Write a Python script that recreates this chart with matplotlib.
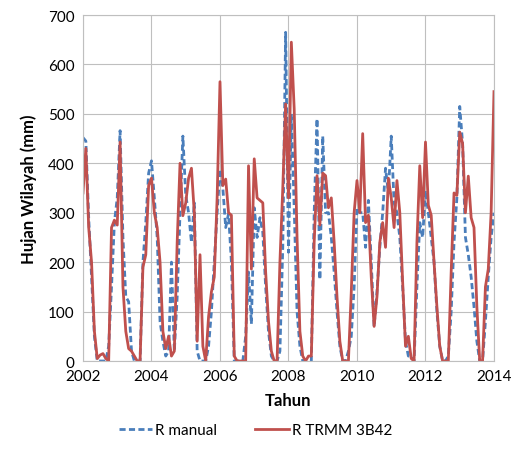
import numpy as np
import matplotlib
matplotlib.use("Agg")
import matplotlib.pyplot as plt

# monthly rainfall, Jan 2002 .. Jan 2014
r_manual = [452, 445, 290, 170, 50, 0, 0, 0, 0, 30, 150, 280,
            330, 466, 250, 130, 120, 20, 0, 0, 0, 200, 280, 380,
            405, 330, 250, 80, 40, 10, 20, 200, 20, 130, 300, 455,
            335, 300, 240, 320, 20, 0, 0, 0, 30, 100, 200, 300,
            388, 350, 270, 298, 200, 0, 0, 0, 0, 50, 180, 75,
            310, 250, 290, 260, 150, 60, 10, 0, 0, 20, 230, 665,
            220, 500, 310, 100, 30, 0, 0, 0, 0, 300, 490, 165,
            455, 300, 300, 250, 180, 100, 30, 0, 0, 20, 50, 150,
            310, 300, 300, 230, 325, 200, 70, 140, 230, 300, 390, 340,
            455, 320, 300, 250, 150, 40, 10, 10, 0, 150, 280, 250,
            345, 300, 250, 200, 100, 30, 0, 0, 10, 100, 240, 330,
            515, 440, 250, 215, 170, 110, 40, 0, 0, 80, 170, 250,
            300]
r_trmm = [340, 430, 270, 200, 60, 5, 12, 15, 5, 0, 270, 285,
          275, 443, 150, 60, 25, 20, 10, 0, 0, 190, 215, 355,
          370, 300, 270, 200, 60, 25, 50, 10, 20, 240, 400, 294,
          320, 370, 390, 300, 40, 215, 30, 0, 90, 140, 170, 330,
          565, 355, 368, 300, 295, 10, 0, 0, 0, 0, 395, 186,
          409, 330, 325, 320, 180, 80, 20, 0, 0, 200, 350, 520,
          330, 645, 510, 250, 60, 10, 0, 10, 10, 240, 375, 275,
          380, 375, 310, 330, 240, 130, 40, 0, 0, 0, 140, 300,
          365, 300, 460, 280, 295, 170, 70, 130, 240, 280, 230, 370,
          330, 270, 365, 300, 160, 30, 50, 5, 0, 240, 395, 290,
          443, 315, 295, 200, 110, 30, 0, 0, 0, 180, 340, 335,
          463, 440, 300, 374, 290, 270, 110, 0, 0, 150, 186, 300,
          545]

t = 2002 + np.arange(len(r_manual)) / 12.0

plt.rcParams['font.family'] = ['Lato', 'DejaVu Sans']

fig = plt.figure(figsize=(5.11, 4.52), dpi=100)
ax = fig.add_axes([0.1624, 0.1991, 0.8043, 0.7655])

ax.plot(t, r_manual, color='#4A7EBB', linestyle='--', linewidth=2.0, dashes=(2.2, 1.2),
        label='R manual')
ax.plot(t, r_trmm, color='#C0504D', linewidth=2.0, label='R TRMM 3B42')

ax.set_xlim(2002, 2014)
ax.set_ylim(0, 700)
ax.set_xticks(range(2002, 2015, 2))
ax.set_yticks(range(0, 701, 100))
ax.grid(True, color='#BFBFBF', linewidth=0.8)
ax.set_axisbelow(True)
for s in ax.spines.values():
    s.set_color('#BFBFBF')
    s.set_linewidth(0.8)
ax.tick_params(length=0, labelsize=11, pad=6, colors='#000000')

ax.set_xlabel('Tahun', fontsize=12, fontweight='bold', labelpad=6)
ax.set_ylabel('Hujan Wilayah (mm)', fontsize=12, fontweight='bold', labelpad=8)

fig.legend(loc='lower center', bbox_to_anchor=(0.5, 0.0), ncol=2, frameon=False,
           fontsize=11, handlelength=2.2, handletextpad=0.2, columnspacing=2.5)

fig.savefig('out.png', dpi=100)
